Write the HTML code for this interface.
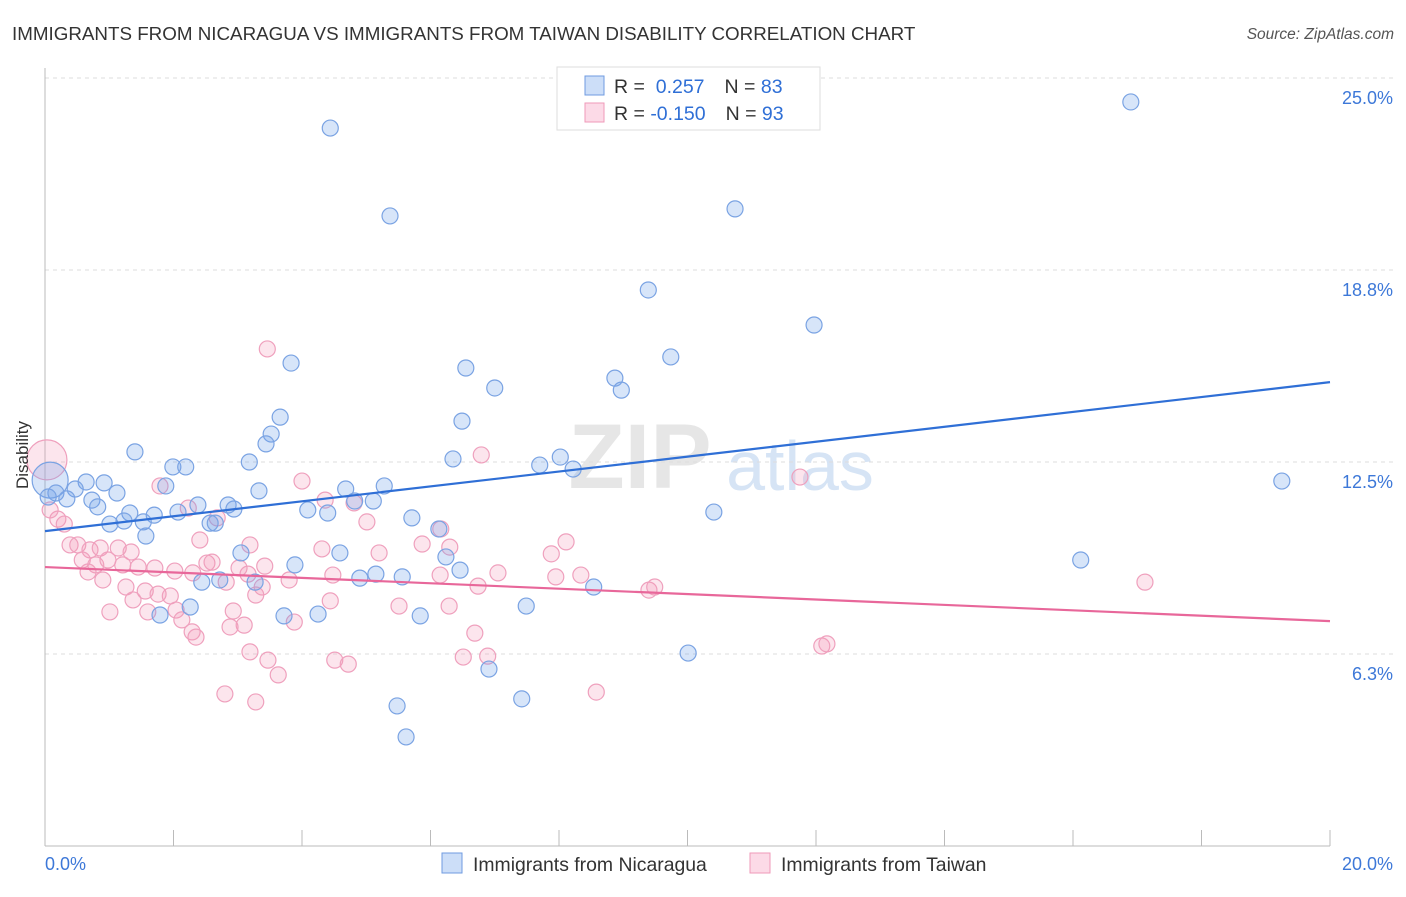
<!DOCTYPE html>
<html><head><meta charset="utf-8"><style>
body{margin:0;background:#fff;font-family:"Liberation Sans",sans-serif;}
svg text{font-family:"Liberation Sans",sans-serif;}
</style></head><body>
<svg id="chart" width="1406" height="892" xmlns="http://www.w3.org/2000/svg">
<text x="12" y="40" font-size="18.8" fill="#333">IMMIGRANTS FROM NICARAGUA VS IMMIGRANTS FROM TAIWAN DISABILITY CORRELATION CHART</text>
<text x="1394" y="39" font-size="15.5" fill="#555" font-style="italic" text-anchor="end">Source: ZipAtlas.com</text>
<text x="640" y="488" font-size="92" fill="#e6e6e6" font-family="Liberation Serif" font-weight="bold" text-anchor="middle">ZIP</text>
<text x="800" y="490" font-size="70" fill="#d6e4f5" text-anchor="middle">atlas</text>
<g id="grid"></g>
<g id="axes"></g>
<g id="pts"></g>
<g id="lines"></g>
<text x="28" y="455" font-size="17" fill="#333" text-anchor="middle" transform="rotate(-90 28 455)">Disability</text>
<g>
<rect x="557" y="67" width="263" height="63" fill="#fff" stroke="#ddd"/>
<rect x="585" y="76" width="19" height="19" fill="rgba(110,160,235,0.35)" stroke="#6f9be0"/>
<rect x="585" y="103" width="19" height="19" fill="rgba(245,150,185,0.35)" stroke="#ef9ab8"/>
<text x="614" y="93" font-size="19.5" fill="#333">R = <tspan fill="#2f6fd6">&#160;0.257</tspan><tspan dx="20">N = </tspan><tspan fill="#2f6fd6">83</tspan></text>
<text x="614" y="120" font-size="19.5" fill="#333">R = <tspan fill="#2f6fd6">-0.150</tspan><tspan dx="20">N = </tspan><tspan fill="#2f6fd6">93</tspan></text>
</g>
<g>
<rect x="442" y="853" width="20" height="20" fill="rgba(110,160,235,0.35)" stroke="#6f9be0"/>
<text x="473" y="871" font-size="19.4" fill="#333">Immigrants from Nicaragua</text>
<rect x="750" y="853" width="20" height="20" fill="rgba(245,150,185,0.35)" stroke="#ef9ab8"/>
<text x="781" y="871" font-size="19.4" fill="#333">Immigrants from Taiwan</text>
</g>
</svg>
<script>
const yTicks=[6.25,12.5,18.75,25];
const yTickLabels=["6.3%","12.5%","18.8%","25.0%"];
const xLabels=["0.0%","20.0%"];
const blueX=[4.44,16.90,5.37,10.74,9.39,11.97,9.74,3.83,6.55,8.87,8.97,7.00,3.66,6.49,3.52,3.44,1.40,6.35,3.18,7.70,8.02,8.22,1.99,2.19,19.25,1.88,3.33,0.64,0.92,0.47,4.68,5.28,4.82,5.11,1.12,0.17,0.34,0.73,0.05,2.38,2.85,4.09,4.40,0.82,1.32,1.70,2.07,2.94,10.41,5.71,6.13,1.23,1.01,1.53,2.57,2.65,1.57,3.05,4.59,16.12,6.24,3.89,6.46,4.90,5.15,5.56,3.27,2.44,2.72,8.54,2.26,1.79,3.72,4.25,5.84,7.49,10.01,6.91,7.42,5.48,5.62];
const blueY=[23.37,24.22,20.51,20.74,18.10,16.96,15.92,15.72,15.56,15.23,14.84,14.91,13.96,13.83,13.41,13.09,12.83,12.60,12.50,12.40,12.66,12.27,12.34,12.34,11.88,11.72,11.56,11.85,11.82,11.62,11.62,11.72,11.23,11.23,11.49,11.49,11.30,11.26,11.36,11.10,11.10,10.94,10.84,11.04,10.84,10.77,10.87,10.97,10.87,10.68,10.32,10.58,10.48,10.55,10.51,10.51,10.09,9.54,9.54,9.31,9.41,9.15,8.98,8.72,8.85,8.76,8.59,8.59,8.66,8.43,7.78,7.52,7.49,7.55,7.49,7.81,6.28,5.76,4.79,4.56,3.55];
const pinkX=[3.46,6.79,11.75,4.00,4.36,4.81,1.79,2.23,2.68,5.01,6.16,0.20,0.30,2.41,3.19,4.31,5.20,5.87,6.30,7.88,8.11,0.39,0.51,0.70,0.86,1.14,1.34,0.58,0.79,0.98,1.21,1.45,1.71,2.02,2.30,2.52,2.60,3.02,3.16,3.42,3.80,4.48,6.15,6.74,7.05,7.95,8.34,9.40,9.49,17.12,0.67,0.90,1.26,1.56,1.76,1.95,2.82,3.38,3.28,4.44,5.51,6.29,1.37,1.60,1.01,2.04,2.13,2.93,3.10,2.88,3.88,2.29,2.35,6.69,12.09,12.17,3.19,3.47,4.51,4.72,6.51,6.89,3.63,2.80,3.28,8.58,0.08];
const pinkY=[16.18,12.73,12.01,11.88,11.26,11.17,11.72,11.00,10.68,10.55,10.32,10.64,10.48,9.96,9.80,9.67,9.54,9.83,9.73,9.51,9.90,9.80,9.80,9.64,9.70,9.70,9.57,9.31,9.15,9.31,9.15,9.08,9.05,8.95,8.89,9.21,9.24,9.05,8.85,9.11,8.66,8.82,8.82,8.46,8.89,8.76,8.82,8.33,8.43,8.59,8.92,8.66,8.43,8.30,8.20,8.14,8.59,8.43,8.17,7.98,7.81,7.81,8.01,7.62,7.62,7.68,7.36,7.65,7.19,7.13,7.29,6.97,6.80,6.93,6.51,6.58,6.32,6.05,6.05,5.92,6.15,6.18,5.57,4.95,4.69,5.01,10.94];
const bigBlue=[0.08,11.91];
const bigPink=[0.03,12.57];
const blueTrend=[10.25,15.1];
const pinkTrend=[9.08,7.32];

const X0=45,X1=1330,Y0=846,YPER=30.72;
function sx(v){return X0+(v/20)*(X1-X0);}
function sy(v){return Y0-v*YPER;}
const NS="http://www.w3.org/2000/svg";
function mk(tag,attrs,parent){const e=document.createElementNS(NS,tag);for(const k in attrs)e.setAttribute(k,attrs[k]);parent.appendChild(e);return e;}
const grid=document.getElementById('grid'),axes=document.getElementById('axes'),pts=document.getElementById('pts'),lines=document.getElementById('lines');
yTicks.forEach((t,i)=>{
  const l=mk('line',{x1:X0,x2:1394,y1:sy(t),y2:sy(t),stroke:'#ddd','stroke-dasharray':'4,4'},grid);
  
  
  const tx=mk('text',{x:1393,y:sy(t)+26,'font-size':18,fill:'#3d78d8','text-anchor':'end'},axes);
  tx.textContent=yTickLabels[i];
  
  
});
const ya=mk('line',{x1:X0,x2:X0,y1:68,y2:Y0,stroke:'#bbb'},axes);


const xa=mk('line',{x1:X0,x2:X1,y1:Y0,y2:Y0,stroke:'#bbb'},axes);


for(let i=1;i<=10;i++){
  const tk=mk('line',{x1:sx(i*2),x2:sx(i*2),y1:Y0-16,y2:Y0,stroke:'#bbb'},axes);
  
  
}
[[0,'start',45],[20,'end',1393]].forEach((d,i)=>{
  const t=mk('text',{x:d[2],y:870,'font-size':18,fill:'#3d78d8','text-anchor':d[1]},axes);
  t.textContent=xLabels[i];
  
  
});
function dot(x,y,r,blue){
  const c=mk('circle',{cx:sx(x),cy:sy(y),r:r,fill:blue?'rgba(110,160,235,0.28)':'rgba(245,150,185,0.25)',stroke:blue?'#7aa3e3':'#efa0bd','stroke-width':1.2},pts);
  
  
}
dot(bigPink[0],bigPink[1],20,false);
dot(bigBlue[0],bigBlue[1],18,true);
pinkX.forEach((x,i)=>dot(x,pinkY[i],8,false));
blueX.forEach((x,i)=>dot(x,blueY[i],8,true));
const bl=mk('line',{x1:sx(0),x2:sx(20),y1:sy(blueTrend[0]),y2:sy(blueTrend[1]),stroke:'#2f6fd6','stroke-width':2.2},lines);


const pl=mk('line',{x1:sx(0),x2:sx(20),y1:sy(pinkTrend[0]),y2:sy(pinkTrend[1]),stroke:'#e8679a','stroke-width':2.2},lines);


</script>
</body></html>
